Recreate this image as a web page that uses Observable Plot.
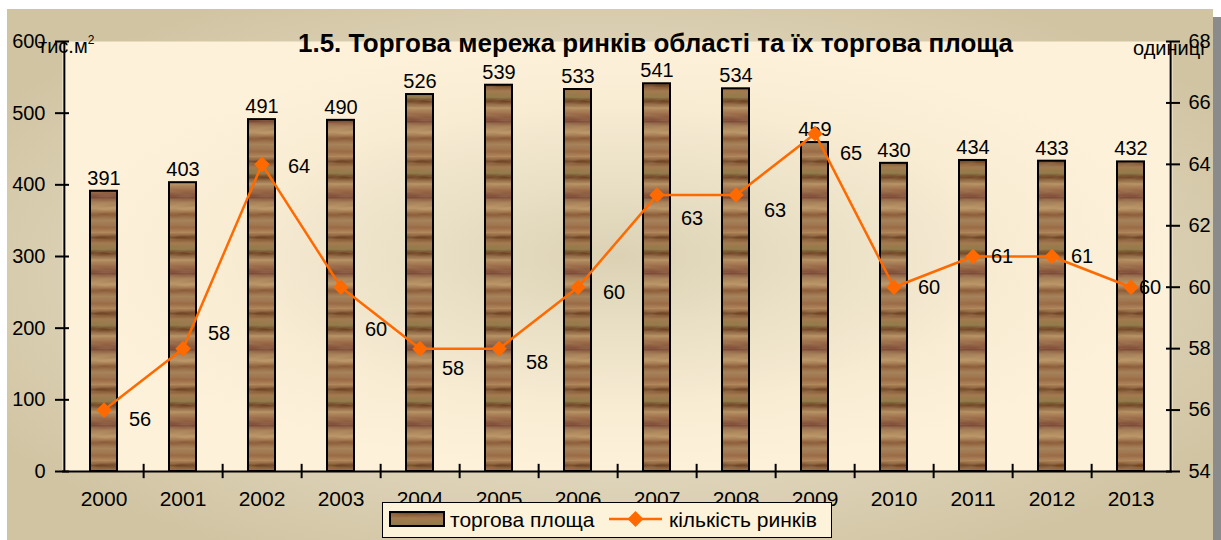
<!DOCTYPE html>
<html>
<head>
<meta charset="utf-8">
<script src="https://cdn.jsdelivr.net/npm/d3@7"></script>
<script src="https://cdn.jsdelivr.net/npm/@observablehq/plot@0.6"></script>
<style>
  html, body { margin: 0; padding: 0; background: #ffffff; }
  body { width: 1221px; height: 540px; position: relative; overflow: hidden; font-family: "Liberation Sans", Arial, sans-serif; }
  #panel { position: absolute; left: 7px; top: 9px; width: 1206px; height: 531px;
    background: radial-gradient(ellipse 60% 60% at 50% 50%, #ece5d0 0%, #e3dac1 50%, #d1c4a3 100%); }
  #shadow { position: absolute; left: 1213px; top: 17px; width: 8px; height: 523px; background: #8b8b8b; }
  #chart { position: absolute; left: 0; top: 0; }
  .lbl { position: absolute; font-size: 20px; color: #000; white-space: nowrap; }
  #title { position: absolute; left: 0; width: 1311px; text-align: center; top: 28px; font-size: 26px; font-weight: bold; white-space: nowrap; }
  #legend { position: absolute; left: 382px; top: 502px; width: 448px; height: 34px; background: #fdf2da;
    border: 1.5px solid #000; }
</style>
</head>
<body>
<div id="panel"></div>
<div id="shadow"></div>
<div id="chart"></div>
<div id="title">1.5. Торгова мережа ринків області та їх торгова площа</div>
<div class="lbl" style="left:38px; top:33px;">тис.м<sup style="font-size:12px; vertical-align: 9px;">2</sup></div>
<div class="lbl" style="left:1133px; top:37px;">одиниці</div>
<div id="legend">
  <svg width="448" height="34" style="position:absolute; left:0; top:0; font-family: 'Liberation Sans', Arial, sans-serif;">
    <rect x="7" y="9" width="54" height="14" fill="url(#wood)" stroke="#000" stroke-width="2"></rect>
    <text x="67" y="24" font-size="21">торгова площа</text>
    <line x1="226" x2="279" y1="16" y2="16" stroke="#ff6a00" stroke-width="2.5"></line>
    <path d="M252.5,8 L260.5,16 L252.5,24 L244.5,16 Z" fill="#ff6a00"></path>
    <text x="286" y="24" font-size="21">кількість ринків</text>
  </svg>
</div>
<script>
// ---- data ----
const years = ["2000","2001","2002","2003","2004","2005","2006","2007","2008","2009","2010","2011","2012","2013"];
const tradeArea = [391, 403, 491, 490, 526, 539, 533, 541, 534, 459, 430, 434, 433, 432];
const marketCount = [56, 58, 64, 60, 58, 58, 60, 63, 63, 65, 60, 61, 61, 60];
const leftTicks = [0, 100, 200, 300, 400, 500, 600];
const rightTicks = [54, 56, 58, 60, 62, 64, 66, 68];
// label nudges (px) for the market-count value labels, as placed in the original
const countLabelNudge = [[36,10],[36,-15],[37,2],[35,42],[33,20],[38,14],[36,5],[35,24],[39,16],[36,20],[35,0],[29,0],[30,0],[19,0]];

// ---- layout ----
const W = 1221, H = 540;
const mL = 62, mR = 49, mT = 41, mB = 69;
const step = (W - mL - mR) / years.length;
const leftMax = 600, rMin = 54, rMax = 68;
const toLeft = v => (v - rMin) / (rMax - rMin) * leftMax;
const fromLeft = v => Math.round(v / leftMax * (rMax - rMin) + rMin);

const bars = years.map((y, i) => ({year: y, area: tradeArea[i]}));
const counts = years.map((y, i) => ({year: y, count: marketCount[i], yv: toLeft(marketCount[i])}));
const font = {fontSize: 20, fill: "#000"};

const marks = [
  Plot.frame({fill: "url(#plotbg)", stroke: null}),
  Plot.barY(bars, {x: "year", y: "area", fill: "url(#wood)", stroke: "#000", strokeWidth: 2}),
  Plot.text(bars, {x: "year", y: "area", text: d => String(d.area), dy: -13, ...font}),
  Plot.line(counts, {x: "year", y: "yv", stroke: "#ff6a00", strokeWidth: 2.5}),
  Plot.dot(counts, {x: "year", y: "yv", symbol: "diamond2", r: 7, fill: "#ff6a00", stroke: null}),
  ...counts.map((d, i) => Plot.text([d], {x: "year", y: "yv", text: d => String(d.count), dx: countLabelNudge[i][0], dy: countLabelNudge[i][1], ...font})),
  // axis lines
  Plot.ruleY([0], {stroke: "#000", strokeWidth: 2}),
  Plot.ruleX([years[0]], {dx: -step / 2, y1: 0, y2: leftMax, stroke: "#000", strokeWidth: 2}),
  Plot.ruleX([years[years.length - 1]], {dx: step / 2, y1: 0, y2: leftMax, stroke: "#000", strokeWidth: 2}),
  // category boundary ticks
  Plot.ruleX(years.slice(0, -1), {dx: step / 2, y1: 10, y2: -10, stroke: "#000", strokeWidth: 2}),
  // axes
  Plot.axisY(leftTicks, {anchor: "left", tickSize: 14, dx: 7, tickPadding: 10, strokeWidth: 2, fontSize: 20, label: null}),
  Plot.axisY(rightTicks.map(toLeft), {anchor: "right", tickSize: 14, dx: -7, tickPadding: 9, strokeWidth: 2, fontSize: 20, tickFormat: d => String(fromLeft(d)), label: null}),
  Plot.axisX({anchor: "bottom", tickSize: 0, tickPadding: 20, fontSize: 21, label: null})
];

const svg = Plot.plot({
  width: W, height: H,
  marginLeft: mL, marginRight: mR, marginTop: mT, marginBottom: mB,
  style: {background: "transparent", fontFamily: "'Liberation Sans', Arial, sans-serif", color: "#000"},
  x: {domain: years, paddingInner: 0.66, paddingOuter: 0.33},
  y: {domain: [0, leftMax]},
  marks
});

const defs = d3.select(svg).insert("defs", ":first-child");
defs.html(`
  <radialGradient id="plotbg" cx="0.5" cy="0.5" r="0.5">
    <stop offset="0" stop-color="#dcd1b3"/>
    <stop offset="0.35" stop-color="#e9e0c6"/>
    <stop offset="0.7" stop-color="#f8ecd3"/>
    <stop offset="1" stop-color="#fdf1da"/>
  </radialGradient>
  <linearGradient id="woodgrad" x1="0" y1="0" x2="0" y2="1">
    <stop offset="0" stop-color="#9a6a45"/>
    <stop offset="0.06" stop-color="#b58a5c"/>
    <stop offset="0.12" stop-color="#6e4323"/>
    <stop offset="0.2" stop-color="#a47a4e"/>
    <stop offset="0.28" stop-color="#8f7b48"/>
    <stop offset="0.33" stop-color="#6a3f20"/>
    <stop offset="0.42" stop-color="#b89466"/>
    <stop offset="0.5" stop-color="#9c6c48"/>
    <stop offset="0.6" stop-color="#7d4b38"/>
    <stop offset="0.66" stop-color="#a98259"/>
    <stop offset="0.75" stop-color="#c09c6c"/>
    <stop offset="0.82" stop-color="#8a5a36"/>
    <stop offset="0.9" stop-color="#a7845a"/>
    <stop offset="1" stop-color="#9a6a45"/>
  </linearGradient>
  <filter id="grain" x="0" y="0" width="100%" height="100%">
    <feTurbulence type="fractalNoise" baseFrequency="0.05 0.35" numOctaves="2" seed="3" result="n"/>
    <feColorMatrix in="n" type="matrix" values="0 0 0 0 0.35  0 0 0 0 0.2  0 0 0 0 0.1  0 0 0 1.2 -0.45"/>
  </filter>
  <pattern id="wood" patternUnits="userSpaceOnUse" width="80" height="76">
    <rect width="80" height="76" fill="url(#woodgrad)"/>
    <rect width="80" height="76" filter="url(#grain)"/>
  </pattern>
`);
document.getElementById("chart").appendChild(svg);
</script>
</body>
</html>
